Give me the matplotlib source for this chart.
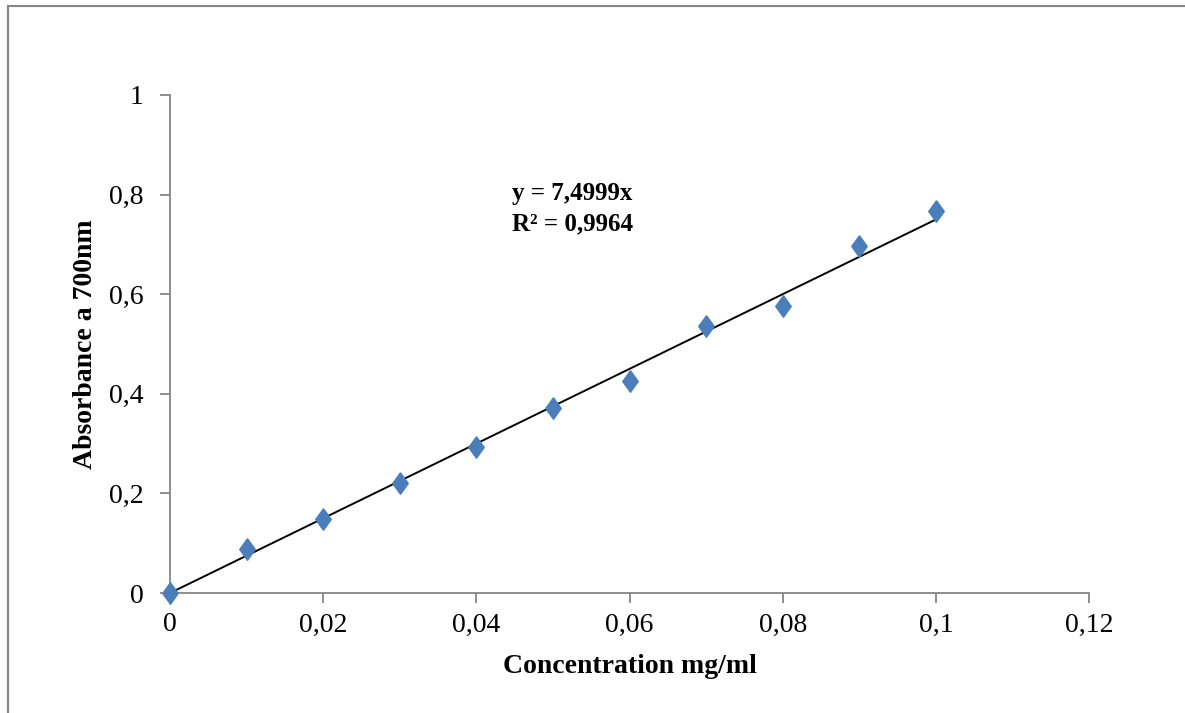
import matplotlib.pyplot as plt
from matplotlib.lines import Line2D
from matplotlib.ticker import FuncFormatter

# Calibration data
conc = [0, 0.01, 0.02, 0.03, 0.04, 0.05, 0.06, 0.07, 0.08, 0.09, 0.1]
absorb = [0, 0.088, 0.149, 0.220, 0.294, 0.371, 0.426, 0.536, 0.577, 0.696, 0.767]
slope = 7.4999
r2 = 0.9964

x_ticks = [0, 0.02, 0.04, 0.06, 0.08, 0.1, 0.12]
y_ticks = [0, 0.2, 0.4, 0.6, 0.8, 1]

plt.rcParams['font.family'] = ['Liberation Serif', 'DejaVu Serif']

fig = plt.figure(figsize=(11.85, 7.13), dpi=100)
ax = fig.add_axes([0.1435, 0.1683, 0.7755, 0.6985])

# thin diamond like the spreadsheet marker
diamond = [(0, 1), (0.72, 0), (0, -1), (-0.72, 0), (0, 1)]

fit_x = [conc[0], conc[-1]]
fit_y = [slope * v for v in fit_x]
ax.plot(fit_x, fit_y, color='black', linewidth=1.4, zorder=2)
ax.plot(conc, absorb, linestyle='none', marker=diamond, markersize=15.5,
        color='#4A7EBB', markeredgecolor='#4A7EBB', zorder=3, clip_on=False)

ax.set_xlim(0, 0.12)
ax.set_ylim(0, 1)
ax.set_xticks(x_ticks)
ax.set_yticks(y_ticks)

comma = FuncFormatter(lambda v, p: ('%g' % round(v, 4)).replace('.', ','))
ax.xaxis.set_major_formatter(comma)
ax.yaxis.set_major_formatter(comma)

for side in ['top', 'right']:
    ax.spines[side].set_visible(False)
for side in ['left', 'bottom']:
    ax.spines[side].set_color('#868686')
    ax.spines[side].set_linewidth(1.3)

ax.tick_params(axis='both', direction='out', length=7, width=1.3, color='#868686',
               labelsize=20, labelcolor='black')
ax.tick_params(axis='x', pad=7)
ax.tick_params(axis='y', pad=12)

ax.set_xlabel('Concentration mg/ml', fontsize=20, fontweight='bold', labelpad=12)
ax.set_ylabel('Absorbance a 700nm', fontsize=20, fontweight='bold', labelpad=8)

ax.text(0.0447, 0.803, 'y = %sx' % str(slope).replace('.', ','), fontsize=18,
        fontweight='bold', ha='left', va='center')
ax.text(0.0447, 0.741, 'R² = %s' % str(r2).replace('.', ','), fontsize=18,
        fontweight='bold', ha='left', va='center')

# outer frame lines
fig.add_artist(Line2D([8 / 1185, 8 / 1185], [0, 1 - 6 / 713], transform=fig.transFigure,
                      color='#868686', linewidth=1.5))
fig.add_artist(Line2D([8 / 1185, 1], [1 - 6 / 713, 1 - 6 / 713], transform=fig.transFigure,
                      color='#868686', linewidth=1.5))

fig.savefig('out.png', dpi=100)
